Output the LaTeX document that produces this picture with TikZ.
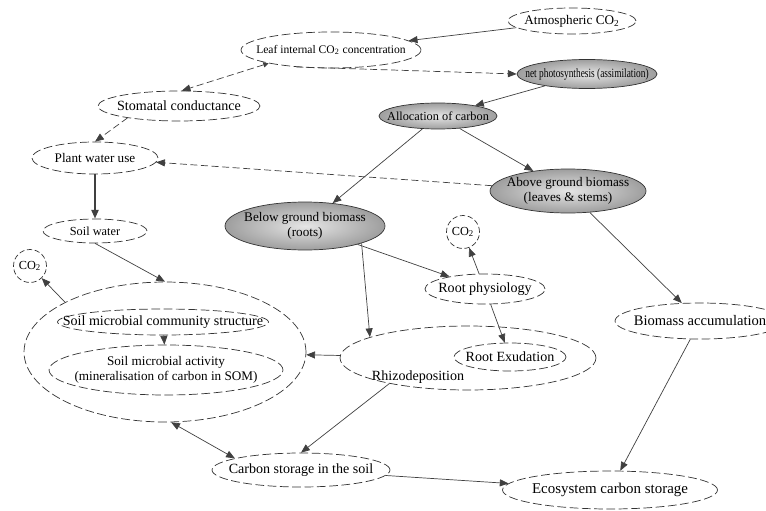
\documentclass[tikz,border=0pt]{standalone}
\usepackage{fontspec}
\setmainfont{Liberation Serif}
\usetikzlibrary{shapes.geometric,arrows.meta}

\begin{document}
\begin{tikzpicture}[x=0.02cm,y=-0.02cm,
  font=\fontsize{8}{9}\selectfont,
  proc/.style={ellipse,draw=black!80,dash pattern=on 5pt off 2pt,inner xsep=-0.6cm,inner ysep=0pt,align=center},
  pool/.style={ellipse,draw=black!80,solid,inner color=black!10,outer color=black!38,inner xsep=-0.6cm,inner ysep=0pt,align=center},
  gas/.style={circle,draw=black!80,dash pattern=on 3pt off 1.5pt,inner sep=0pt,minimum size=0.66cm},
  flow/.style={draw=black!75,-{Triangle[length=5pt,width=4pt]}},
  wflow/.style={flow,dash pattern=on 4pt off 2pt}]

\useasboundingbox (0,0) rectangle (766,510);

% leaf level
\node[proc,minimum width=2.56cm,minimum height=0.52cm,font=\fontsize{7.5}{8.5}\selectfont] (atm) at (572,21) {Atmospheric CO\textsubscript{2}};
\node[proc,minimum width=3.6cm,minimum height=0.72cm,font=\fontsize{6.6}{7.5}\selectfont] (leaf) at (331,50) {Leaf internal CO\textsubscript{2} concentration};
\node[pool,minimum width=2.8cm,minimum height=0.58cm,font=\fontsize{7.2}{8}\selectfont] (net) at (587,74) {\scalebox{0.74}[1]{net photosynthesis (assimilation)}};
\node[proc,minimum width=3.24cm,minimum height=0.6cm] (sto) at (179,106) {Stomatal conductance};
\node[pool,minimum width=2.36cm,minimum height=0.52cm,font=\fontsize{7}{8}\selectfont] (alloc) at (438,116) {Allocation of carbon};
\node[proc,minimum width=2.52cm,minimum height=0.64cm,font=\fontsize{7.5}{8.5}\selectfont] (pwu) at (95,158) {Plant water use};
\node[pool,minimum width=3.12cm,minimum height=0.88cm,font=\fontsize{7.5}{8.5}\selectfont] (agb) at (568,191) {Above ground biomass\\(leaves \& stems)};
\node[pool,minimum width=3.2cm,minimum height=0.96cm,font=\fontsize{7.5}{8.5}\selectfont] (bgb) at (305,226) {Below ground biomass\\(roots)};

% soil level
\node[gas,font=\fontsize{7}{8}\selectfont] (co2r) at (463,232) {CO\textsubscript{2}};
\node[proc,minimum width=2.08cm,minimum height=0.48cm,font=\fontsize{7}{8}\selectfont] (sw) at (95,231) {Soil water};
\node[gas,font=\fontsize{7}{8}\selectfont] (co2s) at (30,266) {CO\textsubscript{2}};
\node[proc,minimum width=2.4cm,minimum height=0.6cm] (rph) at (485,289) {Root physiology};
\node[proc,minimum width=3.4cm,minimum height=0.72cm,font=\fontsize{8.3}{9}\selectfont] (bacc) at (700,321) {Biomass accumulation};
\node[proc,minimum width=5.64cm,minimum height=2.8cm] (soil) at (165,352) {};
\node[proc,minimum width=4.22cm,minimum height=0.52cm] (comm) at (163,322) {Soil microbial community structure};
\node[proc,minimum width=4.68cm,minimum height=1cm,font=\fontsize{7.5}{8.5}\selectfont] (act) at (166,370) {Soil microbial activity\\(mineralisation of carbon in SOM)};
\node[proc,minimum width=5.12cm,minimum height=1.28cm,
  label={[xshift=-1cm,yshift=-0.38cm]center:Rhizodeposition}] (rhz) at (468,358) {};
\node[proc,minimum width=2.24cm,minimum height=0.56cm] (rex) at (510,357) {Root Exudation};
\node[proc,minimum width=3.56cm,minimum height=0.68cm] (cs) at (301,470) {Carbon storage in the soil};
\node[proc,minimum width=4.3cm,minimum height=0.76cm,font=\fontsize{8.5}{9}\selectfont] (eco) at (610,490) {Ecosystem carbon storage};

% connectors
\draw[flow] (atm) -- (leaf);
\draw[wflow] (leaf.-154) -- (net.west);
\draw[flow] (net) -- (alloc);
\draw[wflow,{Triangle[length=3pt,width=3pt]}-{Triangle[length=5pt,width=4pt]}] (leaf.192) -- (sto.80);
\draw[wflow] (sto.193) -- (pwu.north);
\draw[wflow] (agb) -- (pwu);
\draw[flow] (alloc) -- (agb);
\draw[flow] (alloc) -- (bgb);
\draw[flow,line width=1.2pt] (pwu) -- (sw);
\draw[flow] (sw.south) -- (soil.north);
\draw[flow] (soil.north west) -- (co2s);
\draw[flow] (comm) -- (act);
\draw[flow] (bgb) -- (rph);
\draw[flow] (bgb.-17) -- (rhz.168);
\draw[flow] (rph) -- (co2r);
\draw[flow] (rph) -- (rex);
\draw[flow] (agb) -- (bacc);
\draw[flow] (bacc) -- (eco);
\draw[flow] (rhz) -- (soil);
\draw[flow] (rhz.198) -- (cs.north);
\draw[flow,{Triangle[length=5pt,width=4pt]}-{Triangle[length=5pt,width=4pt]}] (soil.-85) -- (cs.170);
\draw[flow] (cs) -- (eco);
\end{tikzpicture}
\end{document}
